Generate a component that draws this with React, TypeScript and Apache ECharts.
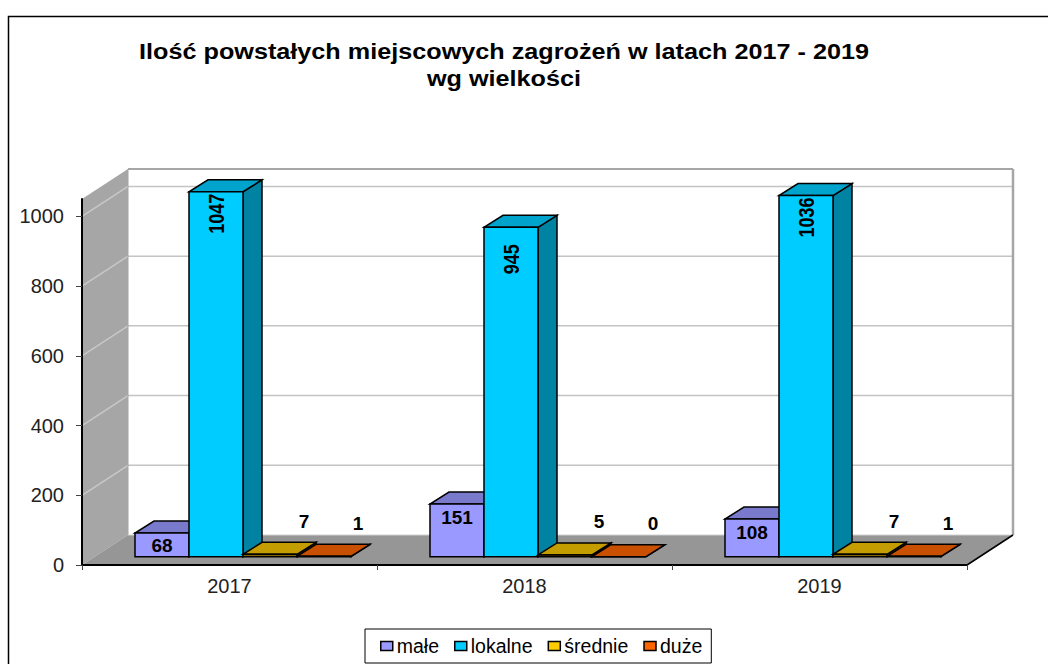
import React, { useEffect, useRef } from "react";
import * as echarts from "echarts";

const titleLines = ["Ilość powstałych miejscowych zagrożeń w latach 2017 - 2019", "wg wielkości"];
const years = ["2017", "2018", "2019"];
const seriesNames = ["małe", "lokalne", "średnie", "duże"];
const male = [68, 151, 108];
const lokalne = [1047, 945, 1036];
const srednie = [7, 5, 7];
const duze = [1, 0, 1];
const gridValues = [200, 400, 600, 800, 1000];

const FONT = '"Liberation Sans", Arial, sans-serif';
const palette = [
  { front: "#9999ff", top: "#7a7acc", side: "#5c5c99", legend: "#9999ff" },
  { front: "#00ccff", top: "#00a3cc", side: "#0082a3", legend: "#00ccff" },
  { front: "#806600", top: "#c49d00", side: "#806600", legend: "#ffcc00" },
  { front: "#803300", top: "#c85000", side: "#803300", legend: "#ff6600" },
];
const DX = 46, DY = -30; // chart depth
const BAR_DX = 19, BAR_DY = -12; // bar depth
const SHIFT_X = 13.5, SHIFT_Y = -8.3; // bars sit inside the floor
const BAR_RATIO = 54 / 295;

const poly = (points: number[][], fill: string, stroke: string, lineWidth = 1) => ({
  type: "polygon",
  shape: { points },
  style: { fill, stroke, lineWidth },
});
const line = (a: number[], b: number[], stroke: string, lineWidth = 1) => ({
  type: "line",
  shape: { x1: a[0], y1: a[1], x2: b[0], y2: b[1] },
  style: { stroke, lineWidth },
});

function renderWalls(_: any, api: any) {
  const band = api.size([1, 0])[0];
  const o = api.coord([0, 0]);
  const x0 = o[0] - band / 2;
  const x1 = x0 + band * years.length;
  const y0 = o[1];
  const yTop = api.coord([0, 1050])[1];
  const children: any[] = [
    poly([[x0, y0], [x0 + DX, y0 + DY], [x0 + DX, yTop + DY], [x0, yTop]], "#a6a6a6", "none"),
    poly([[x0, y0], [x0 + DX, y0 + DY], [x1 + DX, y0 + DY], [x1, y0]], "#969696", "none"),
  ];
  gridValues.forEach((v) => {
    const y = api.coord([0, v])[1];
    children.push(line([x0, y], [x0 + DX, y + DY], "#c8c8c8", 1.5));
    children.push(line([x0 + DX, y + DY], [x1 + DX, y + DY], "#c4c4c4", 1.5));
  });
  children.push(line([x0 + DX, yTop + DY], [x1 + DX, yTop + DY], "#a6a6a6", 2));
  children.push(line([x0 + DX, yTop + DY], [x0 + DX, y0 + DY], "#a6a6a6", 1));
  children.push(line([x1 + DX, yTop + DY], [x1 + DX, y0 + DY], "#a6a6a6", 2.5));
  children.push(line([x0 + DX, y0 + DY], [x1 + DX, y0 + DY], "#d0d0d0", 1));
  children.push(line([x1, y0], [x1 + DX, y0 + DY], "#000", 1.5));
  return { type: "group", children };
}

const makeRenderBar = (seriesIndex: number) => (_: any, api: any) => {
  const idx = api.value(0);
  const val = api.value(1);
  const band = api.size([1, 0])[0];
  const w = band * BAR_RATIO;
  const c = api.coord([idx, val]);
  const b = api.coord([idx, 0]);
  const xL = c[0] + SHIFT_X + (seriesIndex - 2) * w;
  const xR = xL + w;
  const yT = c[1] + SHIFT_Y;
  const yB = b[1] + SHIFT_Y;
  const col = palette[seriesIndex];
  const children: any[] = [
    poly([[xR, yB], [xR + BAR_DX, yB + BAR_DY], [xR + BAR_DX, yT + BAR_DY], [xR, yT]], col.side, "#000", 1.5),
    poly([[xL, yT], [xR, yT], [xR + BAR_DX, yT + BAR_DY], [xL + BAR_DX, yT + BAR_DY]], col.top, "#000", 1.5),
    poly([[xL, yB], [xR, yB], [xR, yT], [xL, yT]], col.front, "#000", 1.5),
  ];
  const cx = (xL + xR) / 2;
  const text = String(val);
  if (seriesIndex === 0) {
    children.push({
      type: "text", x: cx, y: yT + 13,
      style: { text, fill: "#000", font: `bold 19px ${FONT}`, align: "center", verticalAlign: "middle" },
    });
  } else if (seriesIndex === 1) {
    const nudge = val < 1000 ? 32 : 22;
    children.push({
      type: "text", x: cx + 0.5, y: yT + nudge, rotation: Math.PI / 2, scaleY: 1.2,
      style: { text, fill: "#000", font: `bold 18px ${FONT}`, align: "center", verticalAlign: "middle" },
    });
  } else {
    children.push({
      type: "text", x: cx + 34, y: yT - 33,
      style: { text, fill: "#000", font: `bold 19px ${FONT}`, align: "center", verticalAlign: "middle" },
    });
  }
  return { type: "group", children };
};

const valuesBySeries = [male, lokalne, srednie, duze];

export default function App() {
  const ref = useRef<HTMLDivElement>(null);
  useEffect(() => {
    document.body.style.margin = "0";
    document.body.style.background = "#fff";
    const chart = echarts.init(ref.current!, undefined, { renderer: "svg" });
    chart.setOption({
      animation: false,
      backgroundColor: "#fff",
      textStyle: { fontFamily: FONT },
      graphic: [
        { type: "rect", shape: { x: 8.5, y: 16.5, width: 1200, height: 800 }, style: { fill: "none", stroke: "#000", lineWidth: 1.5 }, silent: true },
        ...titleLines.map((text, i) => ({
          type: "text",
          x: 504,
          y: 52 + i * 27,
          scaleX: 1.146,
          style: { text, fill: "#000", font: `bold 22px ${FONT}`, align: "center", verticalAlign: "middle" },
        })),
      ],
      legend: {
        left: 365,
        top: 629,
        orient: "horizontal",
        backgroundColor: "#fff",
        borderColor: "#000",
        borderWidth: 1,
        padding: [7, 9, 7, 15],
        itemWidth: 12,
        itemHeight: 9,
        itemGap: 15,
        textStyle: { fontFamily: FONT, fontSize: 19.5, color: "#000", padding: [0, 0, 0, -1] },
        data: seriesNames.map((name, i) => ({
          name,
          icon: "rect",
          itemStyle: { color: palette[i].legend, borderColor: "#000", borderWidth: 1.5 },
        })),
      },
      grid: { left: 82, top: 199, width: 885, height: 366, containLabel: false },
      xAxis: {
        type: "category",
        data: years,
        z: 10,
        axisLine: { lineStyle: { color: "#000", width: 2 } },
        axisTick: { show: true, length: 5, lineStyle: { color: "#444" } },
        axisLabel: { fontFamily: FONT, fontSize: 20, color: "#222", margin: 11 },
        splitLine: { show: false },
      },
      yAxis: {
        type: "value",
        min: 0,
        max: 1050,
        interval: 200,
        z: 10,
        axisLine: { show: true, onZero: false, lineStyle: { color: "#000", width: 2 } },
        axisTick: { show: true, length: 6, lineStyle: { color: "#444" } },
        axisLabel: { fontFamily: FONT, fontSize: 20, color: "#222", margin: 18, showMaxLabel: false, formatter: (v: number) => String(v) },
        splitLine: { show: false },
      },
      series: [
        {
          type: "custom",
          name: "tło",
          z: 1,
          silent: true,
          renderItem: renderWalls,
          data: [[0, 0]],
          encode: { x: 0, y: 1 },
        },
        ...seriesNames.map((name, s) => ({
          type: "custom",
          name,
          z: 2 + s,
          itemStyle: { color: palette[s].legend },
          renderItem: makeRenderBar(s),
          data: valuesBySeries[s].map((v, i) => [i, v]),
          encode: { x: 0, y: 1 },
        })),
      ],
    });
    return () => chart.dispose();
  }, []);
  return <div ref={ref} style={{ width: 1048, height: 664 }} />;
}
